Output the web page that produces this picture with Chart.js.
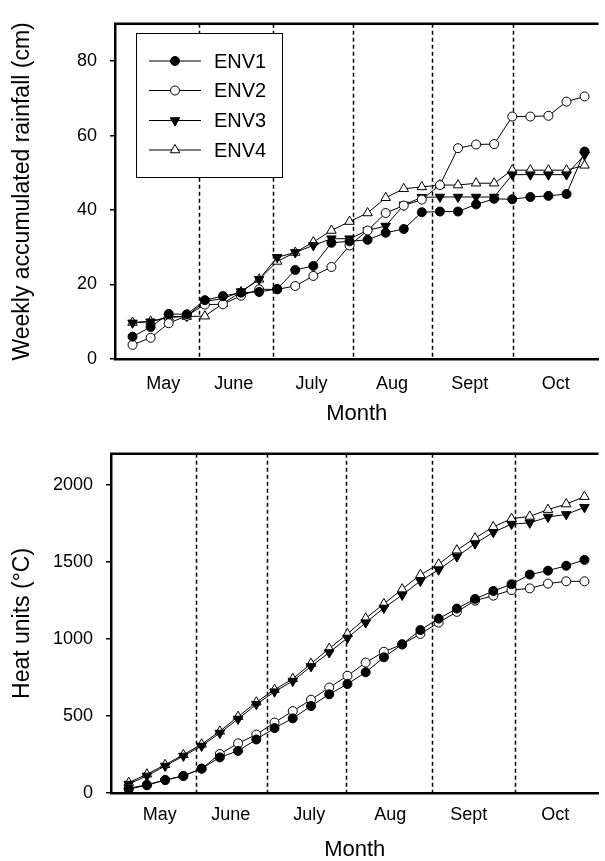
<!DOCTYPE html>
<html>
<head>
<meta charset="utf-8">
<script src="https://cdn.jsdelivr.net/npm/chart.js"></script>
<style>
  html, body { margin: 0; padding: 0; background: #fff; overflow: hidden; }
  .box { position: absolute; left: 0; width: 605px; }
  #top { top: 0; height: 430px; }
  #bottom { top: 430px; height: 431px; }
</style>
</head>
<body>
<div class="box" id="top"><canvas id="rainChart" width="605" height="430"></canvas></div>
<div class="box" id="bottom"><canvas id="heatChart" width="605" height="431"></canvas></div>
<script>
'use strict';

// weeks 0..25, x axis is in week units
var weeks = [0, 1, 2, 3, 4, 5, 6, 7, 8, 9, 10, 11, 12, 13, 14, 15, 16, 17, 18, 19, 20, 21, 22, 23, 24, 25];
var months = ['May', 'June', 'July', 'Aug', 'Sept', 'Oct'];
var monthCenters = [1.7, 5.6, 9.9, 14.35, 18.65, 23.4];
var rainBounds = [3.67, 7.75, 12.2, 16.56, 21.06];
var heatBounds = [3.7, 7.59, 11.93, 16.63, 21.17];
var rainTicks = [0, 20, 40, 60, 80];
var heatTicks = [0, 500, 1000, 1500, 2000];

var rainEnv1 = [6.0, 8.6, 12.1, 12.0, 15.8, 16.9, 17.8, 18.0, 18.8, 23.9, 25.0, 31.2, 31.6, 32.0, 33.9, 34.9, 39.4, 39.6, 39.6, 41.5, 43.0, 42.9, 43.5, 43.8, 44.3, 55.7];
var rainEnv2 = [3.8, 5.7, 9.6, 11.6, 14.6, 14.7, 17.0, 18.7, 18.7, 19.6, 22.3, 24.7, 30.5, 34.5, 39.2, 41.2, 42.8, 46.7, 56.6, 57.6, 57.7, 65.1, 65.1, 65.3, 69.1, 70.5];
var rainEnv3 = [9.7, 10.0, 11.3, 11.5, 15.5, 16.2, 18.1, 21.4, 27.3, 28.6, 30.5, 32.3, 32.3, 34.5, 35.7, 41.4, 43.4, 43.5, 43.5, 43.5, 43.5, 49.5, 49.5, 49.5, 49.5, 54.8];
var rainEnv4 = [9.8, 10.1, 11.2, 11.4, 11.5, 14.9, 18.0, 21.4, 26.2, 28.6, 31.4, 34.5, 36.9, 39.2, 43.3, 45.7, 46.2, 46.7, 46.7, 47.2, 47.2, 50.7, 50.7, 50.7, 50.7, 52.0];

var heatEnv1 = [25, 50, 84, 111, 158, 231, 273, 347, 421, 484, 564, 640, 707, 783, 880, 964, 1057, 1131, 1196, 1259, 1310, 1354, 1417, 1442, 1474, 1512];
var heatEnv2 = [30, 54, 84, 111, 158, 253, 322, 379, 457, 531, 605, 684, 760, 846, 916, 964, 1032, 1105, 1175, 1248, 1280, 1316, 1327, 1358, 1373, 1373];
var heatEnv3 = [58, 111, 175, 240, 305, 389, 480, 575, 657, 726, 821, 911, 1006, 1105, 1200, 1284, 1375, 1448, 1533, 1617, 1691, 1744, 1752, 1790, 1807, 1853];
var heatEnv4 = [67, 122, 183, 248, 316, 400, 495, 589, 670, 741, 839, 937, 1032, 1133, 1227, 1322, 1415, 1484, 1575, 1653, 1726, 1779, 1794, 1838, 1874, 1922];

var FONT = "'Liberation Sans', Arial, sans-serif";

var styles = [
  { label: 'ENV1', pointStyle: 'circle', rotation: 0, fill: '#000', radius: 4.5 },
  { label: 'ENV2', pointStyle: 'circle', rotation: 0, fill: '#fff', radius: 4.5 },
  { label: 'ENV3', pointStyle: 'triangle', rotation: 180, fill: '#000', radius: 5.5 },
  { label: 'ENV4', pointStyle: 'triangle', rotation: 0, fill: '#fff', radius: 5.5 }
];

function makeDatasets(series) {
  return series.map(function(values, i) {
    var s = styles[i];
    return {
      label: s.label,
      data: weeks.map(function(w, j) { return { x: w, y: values[j] }; }),
      borderColor: '#000',
      borderWidth: 1,
      pointStyle: s.pointStyle,
      pointRotation: s.rotation,
      pointRadius: s.radius,
      pointBackgroundColor: s.fill,
      pointBorderColor: '#000',
      pointBorderWidth: 1,
      tension: 0
    };
  });
}

// dashed month separators + top frame line
var monthLines = {
  id: 'monthLines',
  beforeDatasetsDraw: function(chart, args, opts) {
    var ctx = chart.ctx, area = chart.chartArea, xs = chart.scales.x;
    ctx.save();
    ctx.strokeStyle = '#000';
    ctx.lineWidth = 1.5;
    ctx.setLineDash([4, 3]);
    opts.bounds.forEach(function(v) {
      var px = Math.round(xs.getPixelForValue(v)) + 0.5;
      ctx.beginPath();
      ctx.moveTo(px, area.top);
      ctx.lineTo(px, area.bottom);
      ctx.stroke();
    });
    ctx.setLineDash([]);
    ctx.lineWidth = 2.5;
    ctx.beginPath();
    ctx.moveTo(area.left - 1, area.top);
    ctx.lineTo(area.right, area.top);
    ctx.stroke();
    ctx.restore();
  }
};

var boxLegend = {
  id: 'boxLegend',
  afterDraw: function(chart, args, opts) {
    if (!opts.show) return;
    var ctx = chart.ctx;
    ctx.save();
    ctx.fillStyle = '#fff';
    ctx.fillRect(136, 33.5, 146, 144);
    ctx.strokeStyle = '#000';
    ctx.lineWidth = 1;
    ctx.strokeRect(136.5, 33.5, 146, 144);
    var rows = [61, 90.5, 120.5, 150];
    chart.data.datasets.forEach(function(ds, i) {
      var y = rows[i];
      ctx.strokeStyle = '#000';
      ctx.lineWidth = 1;
      ctx.beginPath();
      ctx.moveTo(149, y);
      ctx.lineTo(201, y);
      ctx.stroke();
      ctx.fillStyle = ds.pointBackgroundColor;
      Chart.helpers.drawPoint(ctx, {
        pointStyle: ds.pointStyle,
        rotation: ds.pointRotation,
        radius: ds.pointRadius,
        borderWidth: 1
      }, 175, y);
      ctx.fillStyle = '#000';
      ctx.font = '20px ' + FONT;
      ctx.textAlign = 'left';
      ctx.textBaseline = 'middle';
      ctx.fillText(ds.label, 214, y + 1);
    });
    ctx.restore();
  }
};

function makeOptions(cfg) {
  return {
    responsive: false,
    animation: false,
    devicePixelRatio: 1,
    layout: { padding: { top: cfg.padTop, left: 0, right: 0, bottom: 0 } },
    plugins: {
      legend: { display: false },
      tooltip: { enabled: false },
      monthLines: { bounds: cfg.bounds },
      boxLegend: { show: cfg.legend }
    },
    scales: {
      x: {
        type: 'linear',
        min: -0.97,
        max: 25.77,
        grid: { display: false, drawTicks: false },
        border: { display: true, color: '#000', width: 2.5 },
        afterBuildTicks: function(scale) {
          scale.ticks = monthCenters.map(function(v) { return { value: v }; });
        },
        afterFit: function(scale) { scale.height = cfg.xHeight; },
        ticks: {
          autoSkip: false,
          maxRotation: 0,
          padding: cfg.xTickPad,
          color: '#000',
          font: { family: FONT, size: 18, lineHeight: 1 },
          callback: function(value, index) { return months[index]; }
        },
        title: {
          display: true,
          text: 'Month',
          color: '#000',
          font: { family: FONT, size: 22, lineHeight: 1 },
          padding: { top: 0, bottom: cfg.xTitlePad }
        }
      },
      y: {
        min: 0,
        max: cfg.yMax,
        grid: { display: true, drawOnChartArea: false, drawTicks: true, tickLength: 5, color: '#000', lineWidth: 1.5 },
        border: { display: true, color: '#000', width: 2.5 },
        afterBuildTicks: function(scale) {
          scale.ticks = cfg.yTicks.map(function(v) { return { value: v }; });
        },
        afterFit: function(scale) { scale.width = cfg.yWidth; },
        ticks: {
          padding: 13,
          color: '#000',
          font: { family: FONT, size: 18 },
          callback: function(value) { return String(value); }
        },
        title: {
          display: true,
          text: cfg.yTitle,
          color: '#000',
          font: { family: FONT, size: 23, lineHeight: 1 },
          padding: { top: 11, bottom: 0 }
        }
      }
    }
  };
}

var rainChart = new Chart(document.getElementById('rainChart').getContext('2d'), {
  type: 'line',
  data: { datasets: makeDatasets([rainEnv1, rainEnv2, rainEnv3, rainEnv4]) },
  options: makeOptions({
    padTop: 13, xHeight: 71, xTickPad: 16, xTitlePad: 5, yWidth: 115,
    yMax: 90, yTicks: rainTicks, bounds: rainBounds, legend: true,
    yTitle: 'Weekly accumulated rainfall (cm)'
  }),
  plugins: [monthLines, boxLegend]
});

var heatChart = new Chart(document.getElementById('heatChart').getContext('2d'), {
  type: 'line',
  data: { datasets: makeDatasets([heatEnv1, heatEnv2, heatEnv3, heatEnv4]) },
  options: makeOptions({
    padTop: 15, xHeight: 68, xTickPad: 13, xTitlePad: 0, yWidth: 111,
    yMax: 2200, yTicks: heatTicks, bounds: heatBounds, legend: false,
    yTitle: 'Heat units (\u00B0C)'
  }),
  plugins: [monthLines, boxLegend]
});
</script>
</body>
</html>
